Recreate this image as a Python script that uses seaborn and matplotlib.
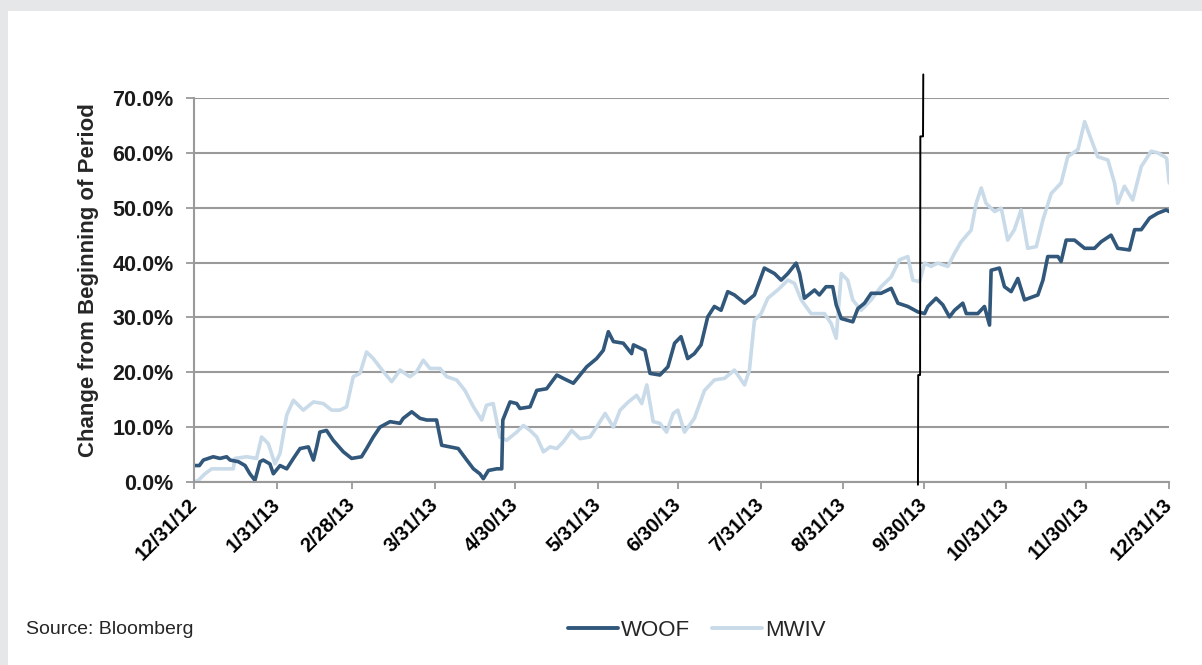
import numpy as np
import pandas as pd
import matplotlib
matplotlib.use("Agg")
import matplotlib.pyplot as plt
from matplotlib.patches import Rectangle
from matplotlib.lines import Line2D
from matplotlib.transforms import ScaledTranslation
import seaborn as sns

# ---- data (day offset from 12/31/12, % change) ----
woof_day = [0, 1.9, 3.4, 7.1, 9.6, 12.1, 13.4, 16.5, 19.0, 20.8, 22.7, 24.6, 25.8, 28.3, 29.6, 32.1, 34.6,
            37.1, 39.6, 42.7, 44.6, 45.8, 47.0, 49.5, 52.0, 55.8, 58.9, 62.6, 64.5, 67.0, 69.5, 73.3, 77.0,
            78.2, 81.4, 84.5, 87.0, 90.7, 92.6, 95.7, 98.8, 102.0, 104.5, 106.9, 108.2, 110.1, 113.2, 115.1,
            115.5, 118.2, 120.7, 121.9, 125.7, 128.2, 131.9, 135.7, 138.1, 141.9, 144.4, 146.9, 150.6, 153.1,
            155.0, 156.9, 160.6, 163.7, 164.4, 168.7, 170.6, 174.3, 177.3, 179.8, 182.2, 184.7, 187.2, 189.7,
            192.2, 194.7, 197.2, 199.7, 202.2, 206.0, 209.7, 213.4, 217.2, 219.7, 222.2, 225.3, 226.6, 228.4,
            232.2, 234.0, 236.5, 239.0, 240.3, 242.2, 246.5, 248.4, 250.9, 253.4, 257.1, 260.9, 263.4, 267.1,
            270.9, 273.4, 274.6, 277.7, 280.2, 282.7, 284.6, 287.7, 289.0, 293.3, 295.8, 297.7, 298.3, 301.4,
            303.3, 305.8, 308.3, 310.8, 315.8, 317.7, 319.5, 323.3, 324.5, 326.4, 329.5, 333.3, 337.0, 339.5,
            343.2, 345.7, 350.1, 352.0, 354.5, 357.6, 360.7, 363.8, 365.0]
woof_pct = [3.0, 3.0, 4.0, 4.6, 4.3, 4.6, 4.0, 3.7, 3.0, 1.5, 0.3, 3.7, 4.0, 3.3, 1.5, 3.0, 2.4,
            4.3, 6.1, 6.4, 4.0, 6.4, 9.1, 9.4, 7.6, 5.5, 4.3, 4.6, 6.1, 8.2, 10.0, 11.0, 10.7,
            11.6, 12.8, 11.6, 11.3, 11.3, 6.7, 6.4, 6.1, 4.0, 2.4, 1.5, 0.6, 2.1, 2.4, 2.4,
            11.3, 14.6, 14.3, 13.4, 13.7, 16.7, 17.0, 19.5, 18.9, 18.0, 19.5, 21.0, 22.5, 24.0,
            27.4, 25.6, 25.3, 23.4, 25.0, 24.0, 19.8, 19.5, 21.0, 25.3, 26.5, 22.5, 23.4, 25.0,
            30.1, 32.0, 31.3, 34.7, 34.1, 32.6, 34.1, 39.0, 38.0, 36.8, 38.0, 39.9, 38.0, 33.5,
            35.0, 34.1, 35.6, 35.6, 32.3, 29.8, 29.2, 31.6, 32.6, 34.4, 34.4, 35.3, 32.6, 32.0,
            31.0, 30.7, 32.0, 33.5, 32.3, 30.1, 31.3, 32.6, 30.7, 30.7, 32.0, 28.6, 38.6, 39.0,
            35.6, 34.7, 37.1, 33.2, 34.1, 36.8, 41.1, 41.1, 40.2, 44.1, 44.1, 42.6, 42.6, 43.8,
            45.0, 42.6, 42.3, 46.0, 46.0, 48.1, 49.0, 49.6, 49.3]

mwiv_day = [0, 1.5, 4.0, 6.5, 10.9, 14.6, 15.2, 19.6, 23.3, 25.2, 27.7, 30.2, 32.1, 34.6, 37.1, 40.8,
            44.6, 48.3, 51.4, 54.5, 57.0, 59.5, 62.0, 64.5, 67.0, 70.8, 73.9, 77.0, 80.7, 83.2, 85.7,
            88.2, 92.0, 94.5, 98.2, 101.3, 104.5, 107.6, 109.4, 111.9, 114.4, 116.9, 120.7, 123.2, 125.7,
            128.2, 130.7, 133.2, 135.7, 138.1, 141.3, 144.4, 148.1, 150.6, 153.8, 156.9, 159.4, 162.5,
            165.6, 167.5, 169.4, 171.8, 174.3, 176.8, 179.3, 181.0, 183.5, 187.2, 191.0, 194.7, 198.5,
            202.2, 206.0, 207.8, 209.7, 212.2, 214.7, 218.4, 222.2, 224.7, 227.2, 230.9, 235.9, 238.4,
            240.3, 242.2, 244.6, 246.5, 249.6, 253.4, 257.1, 260.9, 264.0, 267.1, 269.0, 271.5, 273.4,
            275.8, 278.3, 282.1, 284.6, 287.1, 290.8, 292.7, 294.6, 296.4, 299.6, 302.1, 304.5, 307.0,
            309.5, 312.0, 315.2, 317.7, 320.8, 324.5, 327.0, 330.8, 333.3, 335.8, 338.2, 342.0, 344.5,
            345.7, 348.2, 351.3, 354.5, 358.2, 360.7, 363.2, 364.0, 365.0]
mwiv_pct = [0.0, 0.3, 1.5, 2.4, 2.4, 2.4, 4.3, 4.6, 4.3, 8.2, 7.0, 3.3, 5.2, 12.2, 14.9, 13.1,
            14.6, 14.3, 13.1, 13.1, 13.7, 19.2, 19.8, 23.7, 22.5, 20.1, 18.3, 20.4, 19.2, 20.1, 22.2,
            20.7, 20.7, 19.2, 18.6, 16.7, 13.7, 11.3, 14.0, 14.3, 8.2, 7.6, 9.1, 10.3, 9.4,
            8.2, 5.5, 6.4, 6.1, 7.3, 9.4, 7.9, 8.2, 10.0, 12.5, 10.0, 13.1, 14.6,
            15.8, 14.3, 17.7, 11.0, 10.7, 9.1, 12.5, 13.1, 9.1, 11.6, 16.7, 18.6, 18.9,
            20.4, 17.7, 20.4, 29.5, 30.7, 33.5, 35.0, 36.8, 36.2, 33.2, 30.7, 30.7, 28.9,
            26.2, 38.0, 36.8, 33.2, 31.3, 33.2, 35.6, 37.4, 40.5, 41.1, 36.8, 36.5, 39.9,
            39.3, 39.9, 39.3, 41.7, 43.8, 45.9, 50.8, 53.6, 50.8, 49.3, 49.9, 44.1, 46.0,
            49.6, 42.6, 42.9, 47.8, 52.6, 54.5, 59.3, 60.6, 65.7, 62.4, 59.3, 58.7, 54.5,
            50.8, 53.9, 51.4, 57.5, 60.3, 60.0, 59.3, 59.0, 54.5]

# hand-drawn vertical marker near 9/30/13
marker_day = [270.9, 271.0, 271.7, 271.8, 272.8, 272.9]
marker_pct = [-0.5, 19.5, 19.5, 63.0, 63.0, 74.3]

tick_dates = ["2012-12-31", "2013-01-31", "2013-02-28", "2013-03-31", "2013-04-30", "2013-05-31",
              "2013-06-30", "2013-07-31", "2013-08-31", "2013-09-30", "2013-10-31", "2013-11-30",
              "2013-12-31"]
tick_labels = ["12/31/12", "1/31/13", "2/28/13", "3/31/13", "4/30/13", "5/31/13", "6/30/13",
               "7/31/13", "8/31/13", "9/30/13", "10/31/13", "11/30/13", "12/31/13"]
y_ticks = [0, 10, 20, 30, 40, 50, 60, 70]

# ---- build frame ----
start = pd.Timestamp("2012-12-31")
def to_dates(days):
    return start + pd.to_timedelta(np.array(days), unit="D")

df = pd.concat([
    pd.DataFrame({"date": to_dates(woof_day), "pct": woof_pct, "series": "WOOF"}),
    pd.DataFrame({"date": to_dates(mwiv_day), "pct": mwiv_pct, "series": "MWIV"}),
])

sns.set_style("white")
plt.rcParams["font.family"] = ["Liberation Sans", "DejaVu Sans"]

fig = plt.figure(figsize=(12.02, 6.65), dpi=100, facecolor="#e6e7e9")
fig.patches.append(Rectangle((8 / 1202, 0), 1, (665 - 11) / 665, transform=fig.transFigure,
                             facecolor="white", edgecolor="none", zorder=-10))
ax = fig.add_axes([194.3 / 1202, 1 - 482 / 665, (1169.3 - 194.3) / 1202, (482 - 98) / 665])
ax.set_facecolor("none")
ax.set_zorder(5)

palette = {"WOOF": "#31577a", "MWIV": "#c9dae9"}
sns.lineplot(data=df, x="date", y="pct", hue="series", hue_order=["MWIV", "WOOF"],
             palette=palette, linewidth=2.6, ax=ax, legend=False,
             estimator=None, sort=False)

ax.plot(to_dates(marker_day), marker_pct, color="black", linewidth=1.4, clip_on=False, zorder=5)

ax.set_xlim(start, pd.Timestamp("2013-12-31"))
ax.set_ylim(0, 70)
ax.set_yticks(y_ticks)
ax.set_yticklabels([f"{v:.1f}%" for v in y_ticks], fontsize=15.5, fontweight="bold", color="#1a1a1a")
ax.set_xticks(pd.to_datetime(tick_dates))
ax.set_xticklabels(tick_labels, rotation=45, ha="right", va="center", rotation_mode="anchor",
                   fontsize=14.5, fontweight="bold", color="black")
offset = ScaledTranslation(6 / 100, 0, fig.dpi_scale_trans)
for lab in ax.get_xticklabels():
    lab.set_transform(lab.get_transform() + offset)

ax.grid(axis="y", color="#9a9a9a", linewidth=1.5)
ax.set_axisbelow(True)
for s in ["top", "right"]:
    ax.spines[s].set_visible(False)
for s in ["left", "bottom"]:
    ax.spines[s].set_color("#9a9a9a")
    ax.spines[s].set_linewidth(1.5)
ax.tick_params(axis="x", direction="out", length=5, width=1.3, color="#9a9a9a", bottom=True, pad=9)
ax.tick_params(axis="y", direction="out", length=6, width=1.3, color="#9a9a9a", left=True, pad=9)
ax.set_xlabel("")
ax.set_ylabel("Change from Beginning of Period", fontsize=16, fontweight="bold")
ax.yaxis.set_label_coords((99 - 194.3) / 975, (482 - 280) / 384)

# legend
handles = [Line2D([], [], color=palette["WOOF"], linewidth=2.8),
           Line2D([], [], color=palette["MWIV"], linewidth=2.8)]
fig.legend(handles, ["WOOF", "MWIV"], loc="center", bbox_to_anchor=(697 / 1202, 1 - 630 / 665), ncol=2,
           frameon=False, fontsize=16, handlelength=2.25, handletextpad=0.12, columnspacing=1.0)
fig.text(26 / 1202, 1 - 630 / 665, "Source: Bloomberg", fontsize=14, va="center", ha="left")

fig.savefig("out.png", dpi=100, facecolor=fig.get_facecolor())
